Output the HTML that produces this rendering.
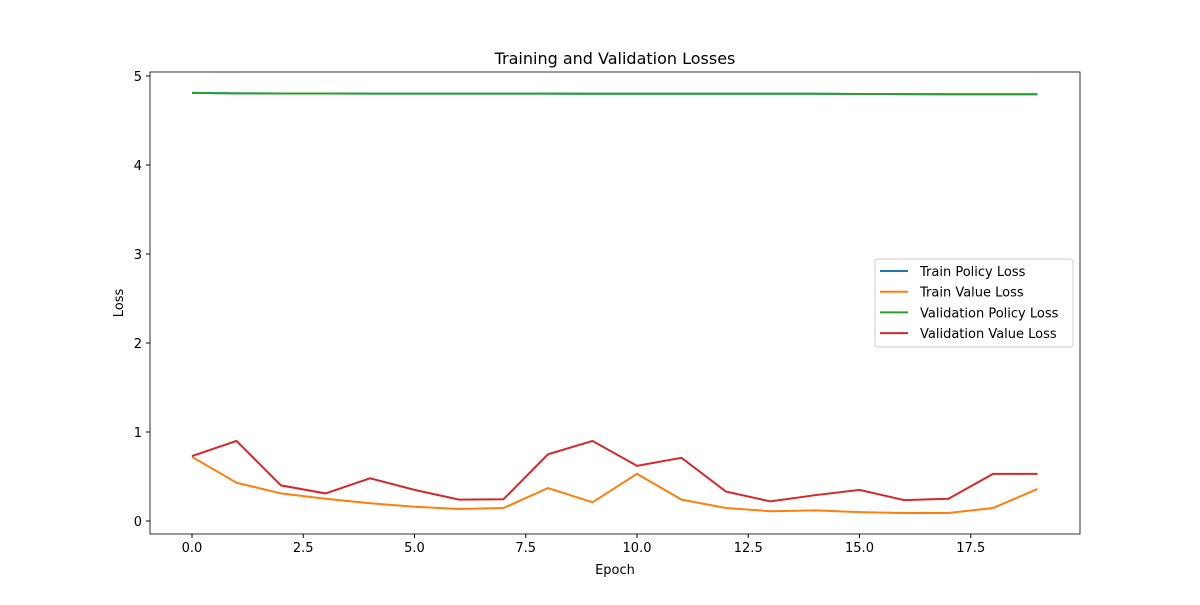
<!DOCTYPE html>
<html><head><meta charset="utf-8"><style>
body{margin:0;background:#fff;font-family:"Liberation Sans",sans-serif}
svg text{font-family:"DejaVu Sans","Liberation Sans",sans-serif;font-size:13px;fill:#000}
</style></head><body>
<svg id="chart" width="1200" height="600" xmlns="http://www.w3.org/2000/svg"></svg>
<script>
const epochs=[0,1,2,3,4,5,6,7,8,9,10,11,12,13,14,15,16,17,18,19];
const trainPolicy=[4.81,4.805,4.803,4.803,4.802,4.802,4.802,4.802,4.802,4.801,4.801,4.801,4.801,4.801,4.801,4.798,4.797,4.795,4.795,4.795];
const trainValue=[0.72,0.43,0.31,0.25,0.20,0.16,0.135,0.146,0.37,0.21,0.53,0.24,0.146,0.11,0.12,0.10,0.09,0.09,0.146,0.36];
const valPolicy=[4.81,4.805,4.803,4.803,4.802,4.802,4.802,4.802,4.802,4.801,4.801,4.801,4.801,4.801,4.801,4.798,4.797,4.795,4.795,4.795];
const valValue=[0.73,0.90,0.40,0.31,0.48,0.35,0.24,0.245,0.75,0.90,0.62,0.71,0.33,0.22,0.29,0.35,0.235,0.25,0.53,0.53];
const xTicks=[0,2.5,5,7.5,10,12.5,15,17.5];
const xTickLabels=["0.0","2.5","5.0","7.5","10.0","12.5","15.0","17.5"];
const yTicks=[0,1,2,3,4,5];
const seriesNames=["Train Policy Loss","Train Value Loss","Validation Policy Loss","Validation Value Loss"];
const colors=["#1f77b4","#ff7f0e","#2ca02c","#d62728"];

const svg=document.getElementById('chart');
const NS="http://www.w3.org/2000/svg";
const L=150,R=1080,T=72,B=534;
const xs=v=>192+v*44.5;
const ys=v=>521-v*89;
function mk(tag,attrs,parent){const e=document.createElementNS(NS,tag);for(const k in attrs)e.setAttribute(k,attrs[k]);(parent||svg).appendChild(e);return e;}

const title=mk('text',{x:615,y:64,'text-anchor':'middle'});


title.style.fontSize='16px';title.textContent='Training and Validation Losses';

xTicks.forEach((t,i)=>{
 const g=mk('g',{});
 
 
 mk('line',{x1:xs(t),x2:xs(t),y1:B,y2:B+4,stroke:'#000'},g);
 const tx=mk('text',{x:xs(t),y:B+18,'text-anchor':'middle'},g);tx.textContent=xTickLabels[i];
});
yTicks.forEach(t=>{
 const g=mk('g',{});
 
 
 mk('line',{x1:L-4,x2:L,y1:ys(t),y2:ys(t),stroke:'#000'},g);
 const tx=mk('text',{x:L-8,y:ys(t)+5,'text-anchor':'end'},g);tx.textContent=t;
});
const xl=mk('text',{x:615,y:574,'text-anchor':'middle'});


xl.textContent='Epoch';
const yl=mk('text',{x:123,y:303,'text-anchor':'middle',transform:'rotate(-90 123 303)'});


yl.textContent='Loss';

const names=['train-policy-line','train-value-line','validation-policy-line','validation-value-line'];
[trainPolicy,trainValue,valPolicy,valValue].forEach((s,i)=>{
 const p=mk('polyline',{points:s.map((v,j)=>xs(epochs[j])+','+ys(v)).join(' '),fill:'none',stroke:colors[i],'stroke-width':2});
 
 
});
const frame=mk('rect',{x:L,y:T,width:R-L,height:B-T,fill:'none',stroke:'#000','stroke-width':0.8});



const lg=mk('g',{});


mk('rect',{x:875,y:259,width:198,height:88,rx:3,fill:'#fff',stroke:'#ccc'},lg);
seriesNames.forEach((n,i)=>{
 const e=mk('g',{},lg);
 
 
 const y=271+i*20.7;
 mk('line',{x1:880,x2:908,y1:y,y2:y,stroke:colors[i],'stroke-width':2},e);
 const t=mk('text',{x:920,y:y+5},e);t.textContent=n;
});
</script>
</body></html>
